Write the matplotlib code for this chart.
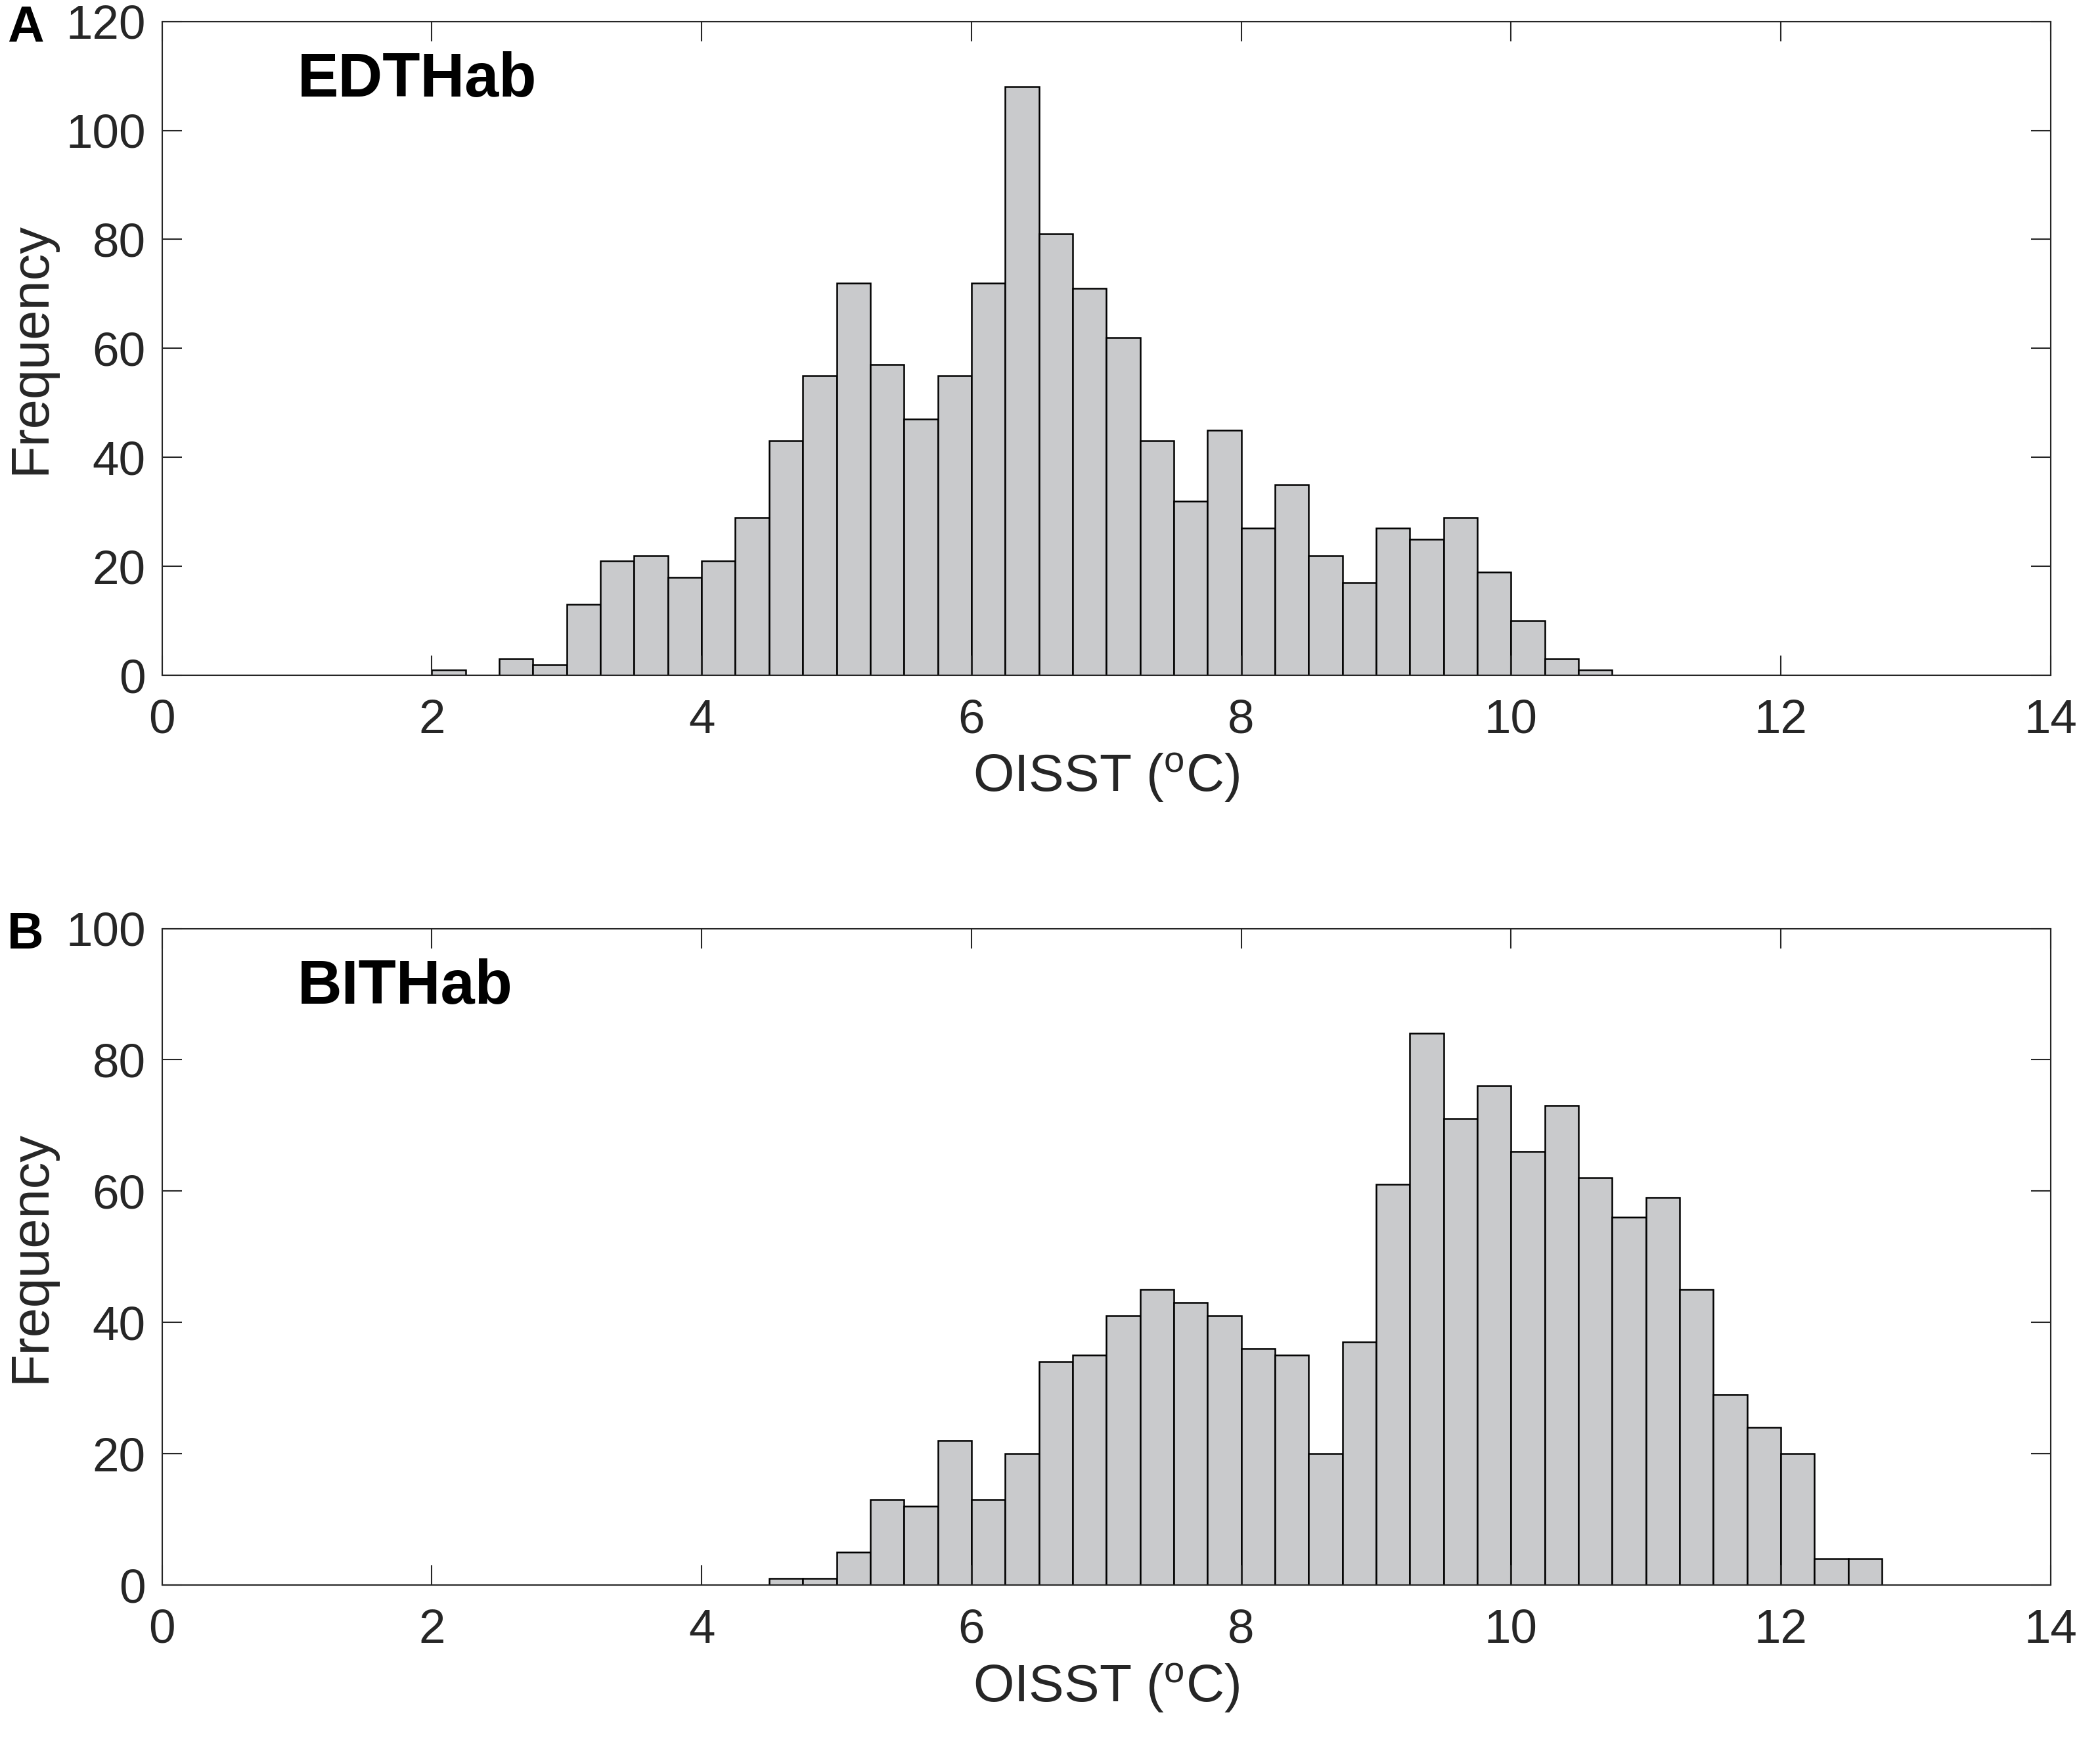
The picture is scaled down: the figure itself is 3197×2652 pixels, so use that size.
import matplotlib
matplotlib.use("Agg")
import matplotlib.pyplot as plt
import numpy as np

# histogram data (bin width 0.25 degC)
bin_width = 0.25
edt_first_edge = 2.0
edt_counts = [1, 0, 3, 2, 13, 21, 22, 18, 21, 29, 43, 55, 72, 57, 47, 55, 72, 108,
              81, 71, 62, 43, 32, 45, 27, 35, 22, 17, 27, 25, 29, 19, 10, 3, 1]
bit_first_edge = 4.5
bit_counts = [1, 1, 5, 13, 12, 22, 13, 20, 34, 35, 41, 45, 43, 41, 36, 35, 20, 37,
              61, 84, 71, 76, 66, 73, 62, 56, 59, 45, 29, 24, 20, 4, 4]

panels = [("A", "EDTHab", edt_first_edge, edt_counts, 120, [0, 20, 40, 60, 80, 100, 120]),
          ("B", "BITHab", bit_first_edge, bit_counts, 100, [0, 20, 40, 60, 80, 100])]
x_ticks = [0, 2, 4, 6, 8, 10, 12, 14]

plt.rcParams['font.family'] = ['Liberation Sans', 'DejaVu Sans']
plt.rcParams['mathtext.fontset'] = 'custom'
plt.rcParams['mathtext.rm'] = 'Liberation Sans'

txt_col = "#262626"
bar_col = "#c9cacc"

fig = plt.figure(figsize=(3197 / 300, 2652 / 300), dpi=300)
boxes = [[0.0772, 0.6123, 0.8992, 0.3754],
         [0.0772, 0.0900, 0.8992, 0.3770]]

for (letter, name, first, counts, ymax, yt), box in zip(panels, boxes):
    ax = fig.add_axes(box)
    edges = first + bin_width * np.arange(len(counts))
    ax.bar(edges, counts, width=bin_width, align='edge', color=bar_col,
           edgecolor="black", linewidth=0.6)
    ax.set_xlim(0, 14)
    ax.set_ylim(0, ymax)
    ax.set_xticks(x_ticks)
    ax.set_yticks(yt)
    ax.tick_params(direction='in', length=7.2, width=0.5, colors=txt_col,
                   labelsize=17.5, top=True, right=True)
    ax.tick_params(axis='x', pad=8.5)
    ax.tick_params(axis='y', pad=6)
    for s in ax.spines.values():
        s.set_linewidth(0.5)
        s.set_color(txt_col)
    ax.set_xlabel(r"OISST ($\mathregular{^o}$C)", fontsize=19.3, color=txt_col)
    ax.set_ylabel("Frequency", fontsize=19.5, color=txt_col)
    ax.xaxis.set_label_coords(0.5, -0.116)
    ax.yaxis.set_label_coords(-0.056, 0.5)
    ax.text(0.0716, 0.91, name, transform=ax.transAxes, fontsize=22.5,
            fontweight='bold', ha='left', va='center', color="black")
    ax.text(-0.082, 0.99, letter, transform=ax.transAxes, fontsize=18.5,
            fontweight='bold', ha='left', va='center', color="black")

fig.savefig("out.png", dpi=300)
